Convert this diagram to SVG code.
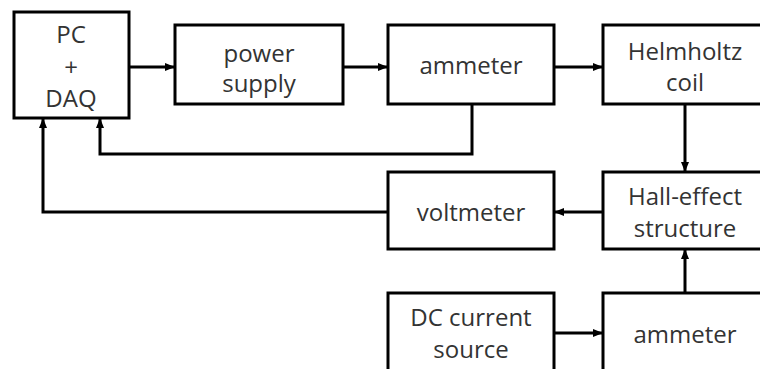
<svg xmlns="http://www.w3.org/2000/svg" width="760" height="369" viewBox="0 0 760 369">
<defs>
<marker id="ah" markerWidth="10" markerHeight="8" refX="10" refY="4" orient="auto" markerUnits="userSpaceOnUse">
<path d="M0,0 L10,4 L0,8 Z" fill="#000"/>
</marker>
<style>
.box{fill:#fff;stroke:#000;stroke-width:3}
.t{font-family:"Open Sans","Noto Sans",sans-serif;font-size:24px;fill:#333;text-anchor:middle}
.c{fill:none;stroke:#000;stroke-width:3;marker-end:url(#ah)}
</style>
</defs>
<rect width="760" height="369" fill="#fff"/>
<g id="pc"><rect class="box" x="14" y="12" width="115" height="106"/>
<text class="t" x="71" y="43">PC</text><text class="t" x="71" y="76">+</text><text class="t" x="71" y="107">DAQ</text></g>
<g id="power"><rect class="box" x="175" y="25" width="168" height="79"/>
<text class="t" x="259" y="62">power</text><text class="t" x="259" y="92">supply</text></g>
<g id="ammeter1"><rect class="box" x="388" y="25" width="166" height="79"/>
<text class="t" x="471" y="74">ammeter</text></g>
<g id="helmholtz"><rect class="box" x="603" y="25" width="170" height="79"/>
<text class="t" x="685" y="60">Helmholtz</text><text class="t" x="685" y="91">coil</text></g>
<g id="voltmeter"><rect class="box" x="388" y="172" width="166" height="77"/>
<text class="t" x="471" y="221">voltmeter</text></g>
<g id="hall"><rect class="box" x="603" y="172" width="170" height="77"/>
<text class="t" x="685" y="205">Hall-effect</text><text class="t" x="685" y="237">structure</text></g>
<g id="dc"><rect class="box" x="388" y="293" width="166" height="90"/>
<text class="t" x="471" y="326">DC current</text><text class="t" x="471" y="358">source</text></g>
<g id="ammeter2"><rect class="box" x="603" y="293" width="170" height="90"/>
<text class="t" x="685" y="343">ammeter</text></g>
<g id="connectors">
<path class="c" d="M129,67 H175"/>
<path class="c" d="M343,67 H388"/>
<path class="c" d="M554,67 H603"/>
<path class="c" d="M472,104 V154 H100 V118"/>
<path class="c" d="M685,104 V172"/>
<path class="c" d="M603,212 H554"/>
<path class="c" d="M388,212 H43 V118"/>
<path class="c" d="M554,333 H603"/>
<path class="c" d="M685,293 V249"/>
</g>
</svg>
